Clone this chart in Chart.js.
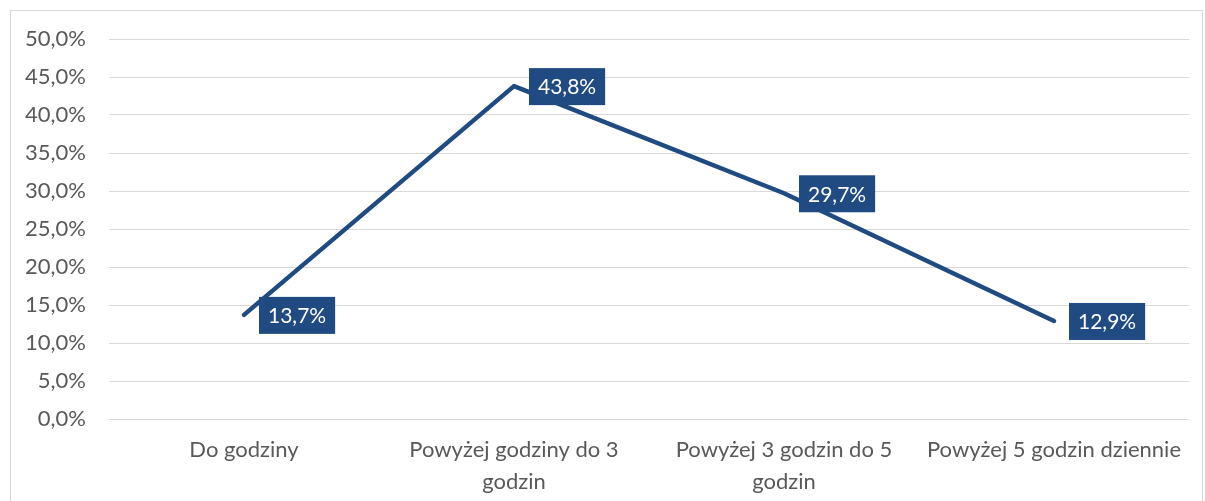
<!DOCTYPE html>
<html>
<head>
<meta charset="utf-8">
<script src="https://cdn.jsdelivr.net/npm/chart.js@4/dist/chart.umd.min.js"></script>
<style>
  html, body { margin: 0; padding: 0; background: #ffffff; }
  #wrap { width: 1205px; height: 501px; position: relative; }
</style>
</head>
<body>
<div id="wrap"><canvas id="chart" width="1205" height="501"></canvas></div>
<script>
// Czas spędzany dziennie – udział odpowiedzi
const categories = [
  'Do godziny',
  ['Powyżej godziny do 3', 'godzin'],
  ['Powyżej 3 godzin do 5', 'godzin'],
  'Powyżej 5 godzin dziennie'
];
const shares = [13.7, 43.8, 29.7, 12.9];
const yTicks = [0, 5, 10, 15, 20, 25, 30, 35, 40, 45, 50];

const LINE_BLUE = '#1f4a82';
const TEXT_GREY = '#595959';
const FONT = 'Lato, "Open Sans", sans-serif';

const fmt = v => v.toFixed(1).replace('.', ',') + '%';

// Outer frame of the chart object
const framePlugin = {
  id: 'frame',
  beforeDraw(chart) {
    const ctx = chart.ctx;
    ctx.save();
    ctx.fillStyle = '#ffffff';
    ctx.fillRect(0, 0, chart.width, chart.height);
    ctx.strokeStyle = '#d9d9d9';
    ctx.lineWidth = 1;
    ctx.strokeRect(10.5, 10.5, 1192, 520);
    ctx.restore();
  }
};

// Value labels in filled boxes, placed to the right of each point
const boxLabelPlugin = {
  id: 'boxLabels',
  afterDatasetsDraw(chart) {
    const ctx = chart.ctx;
    const meta = chart.getDatasetMeta(0);
    const data = chart.data.datasets[0].data;
    ctx.save();
    ctx.font = '21px ' + FONT;
    ctx.textBaseline = 'middle';
    ctx.textAlign = 'left';
    meta.data.forEach((pt, i) => {
      const text = fmt(data[i]);
      const tw = ctx.measureText(text).width;
      const padX = 9, h = 37;
      const x = pt.x + 15;
      const y = pt.y - h / 2 + 0.5;
      ctx.fillStyle = LINE_BLUE;
      ctx.fillRect(x, y, tw + padX * 2, h);
      ctx.fillStyle = '#ffffff';
      ctx.fillText(text, x + padX, y + h / 2 + 1);
    });
    ctx.restore();
  }
};

new Chart(document.getElementById('chart'), {
  type: 'line',
  data: {
    labels: categories,
    datasets: [{
      data: shares,
      borderColor: LINE_BLUE,
      borderWidth: 4.5,
      borderCapStyle: 'round',
      borderJoinStyle: 'round',
      pointRadius: 0,
      pointHoverRadius: 0,
      tension: 0,
      fill: false
    }]
  },
  options: {
    responsive: false,
    animation: false,
    devicePixelRatio: 1,
    layout: { padding: { top: 39, right: 16, left: 0, bottom: 0 } },
    plugins: {
      legend: { display: false },
      tooltip: { enabled: false }
    },
    scales: {
      x: {
        offset: true,
        grid: { display: false, drawTicks: false },
        border: { display: false },
        ticks: {
          color: TEXT_GREY,
          font: { family: FONT, size: 22, lineHeight: 1.45 },
          padding: 15,
          maxRotation: 0,
          autoSkip: false
        },
        afterFit(scale) { scale.height = 501 - 419; }
      },
      y: {
        min: 0,
        max: 50,
        afterBuildTicks(scale) { scale.ticks = yTicks.map(v => ({ value: v })); },
        grid: { color: '#d9d9d9', lineWidth: 1, drawTicks: false },
        border: { display: false },
        ticks: {
          color: TEXT_GREY,
          font: { family: FONT, size: 22 },
          padding: 23,
          callback: v => fmt(v)
        },
        afterFit(scale) { scale.width = 109; }
      }
    }
  },
  plugins: [framePlugin, boxLabelPlugin]
});
</script>
</body>
</html>
